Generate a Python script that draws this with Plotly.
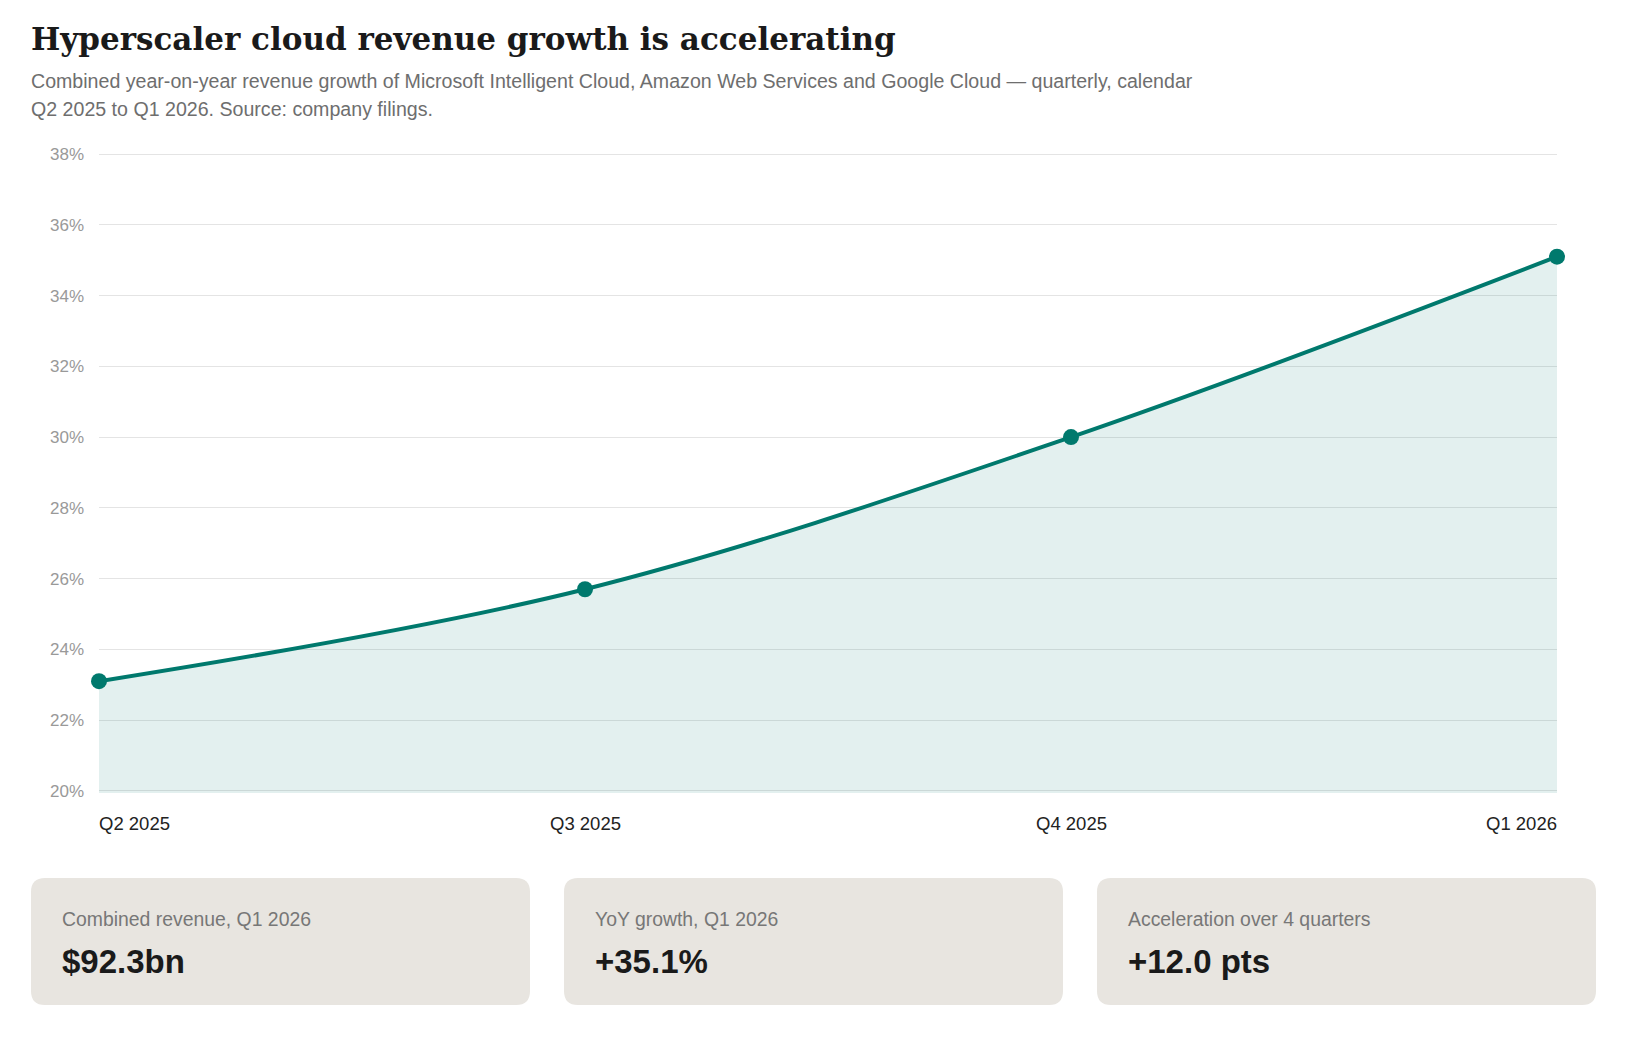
import plotly.graph_objects as go

# chart data
quarters = ["Q2 2025", "Q3 2025", "Q4 2025", "Q1 2026"]
yoy_growth = [23.1, 25.7, 30.0, 35.1]
y_ticks = [20, 22, 24, 26, 28, 30, 32, 34, 36, 38]
y_tick_labels = [f"{v}%" for v in y_ticks]

card_labels = ["Combined revenue, Q1 2026", "YoY growth, Q1 2026", "Acceleration over 4 quarters"]
card_values = ["$92.3bn", "+35.1%", "+12.0 pts"]

title_text = "Hyperscaler cloud revenue growth is accelerating"
subtitle_lines = [
    "Combined year-on-year revenue growth of Microsoft Intelligent Cloud, Amazon Web Services and Google Cloud \u2014 quarterly, calendar",
    "Q2 2025 to Q1 2026. Source: company filings.",
]

W, H = 1627, 1038
# plot area padded by ~2px top/bottom so the 20% and 38% gridlines are drawn
L, R, T, B = 91, 78, 144, 253
PW = W - L - R
PH = H - T - B

TEAL = "#00796d"
SANS = "Liberation Sans, Arial, sans-serif"
SERIF = "Georgia, DejaVu Serif, serif"


def px(x):
    return (x - L) / PW


def py(y):
    return (H - B - y) / PH


def rounded_rect(x0, y0, x1, y1, r):
    # pixel box -> paper path with rounded corners
    rx, ry = r / PW, r / PH
    a, b, c, d = px(x0), py(y1), px(x1), py(y0)
    return (f"M {a+rx},{b} L {c-rx},{b} Q {c},{b} {c},{b+ry} "
            f"L {c},{d-ry} Q {c},{d} {c-rx},{d} L {a+rx},{d} "
            f"Q {a},{d} {a},{d-ry} L {a},{b+ry} Q {a},{b} {a+rx},{b} Z")


fig = go.Figure()
fig.add_trace(go.Scatter(
    x=list(range(len(quarters))), y=yoy_growth,
    mode="lines+markers",
    line=dict(color=TEAL, width=4, shape="spline", smoothing=1.0),
    marker=dict(size=16, color=TEAL),
    fill="tozeroy", fillcolor="rgba(0,121,109,0.11)",
    cliponaxis=False,
    hoverinfo="skip", showlegend=False,
))

annotations = []
# title + subtitle
annotations.append(dict(text=f"<b>{title_text}</b>", x=px(20.5), y=py(31.5), xref="paper", yref="paper",
                        xanchor="left", yanchor="middle", showarrow=False,
                        font=dict(family=SERIF, size=31, color="#1a1a1a")))
for i, line in enumerate(subtitle_lines):
    annotations.append(dict(text=line, x=px(21), y=py(73 + 28 * i), xref="paper", yref="paper",
                            xanchor="left", yanchor="middle", showarrow=False,
                            font=dict(family=SANS, size=19.6, color="#6e6e6e")))

# x labels: first left-aligned, last right-aligned
for i, q in enumerate(quarters):
    anchor = "left" if i == 0 else ("right" if i == len(quarters) - 1 else "center")
    annotations.append(dict(text=q, x=i, y=py(815), xref="x", yref="paper",
                            xanchor=anchor, yanchor="middle", showarrow=False,
                            xshift=-2 if i == 0 else (2 if i == len(quarters) - 1 else 0),
                            font=dict(family=SANS, size=18.5, color="#222222")))

# stat cards
shapes = []
card_w, gap = 499, 34
for i, (lab, val) in enumerate(zip(card_labels, card_values)):
    x0 = 23 + i * (card_w + gap)
    shapes.append(dict(type="path", path=rounded_rect(x0, 870, x0 + card_w, 997, 14),
                       xref="paper", yref="paper", fillcolor="#e8e5e0", line=dict(width=0),
                       layer="below"))
    annotations.append(dict(text=lab, x=px(x0 + 29), y=py(911), xref="paper", yref="paper",
                            xanchor="left", yanchor="middle", showarrow=False,
                            font=dict(family=SANS, size=19.4, color="#777777")))
    annotations.append(dict(text=f"<b>{val}</b>", x=px(x0 + 29), y=py(953), xref="paper", yref="paper",
                            xanchor="left", yanchor="middle", showarrow=False,
                            font=dict(family=SANS, size=33, color="#1a1a1a")))

fig.update_layout(
    width=W, height=H,
    margin=dict(l=L, r=R, t=T, b=B),
    paper_bgcolor="white", plot_bgcolor="white",
    font=dict(family=SANS),
    annotations=annotations, shapes=shapes,
    hovermode=False,
)
fig.update_xaxes(range=[0, len(quarters) - 1], showgrid=False, zeroline=False,
                 showticklabels=False, showline=False, fixedrange=True)
fig.update_yaxes(range=[19.94, 38.06], tickmode="array", tickvals=y_ticks, ticktext=y_tick_labels,
                 showgrid=True, gridcolor="#e4e4e4", gridwidth=1, zeroline=False,
                 showline=False, ticks="", ticklabelstandoff=14,
                 tickfont=dict(family=SANS, size=17, color="#999999"), fixedrange=True)

fig.write_html("out.html")
